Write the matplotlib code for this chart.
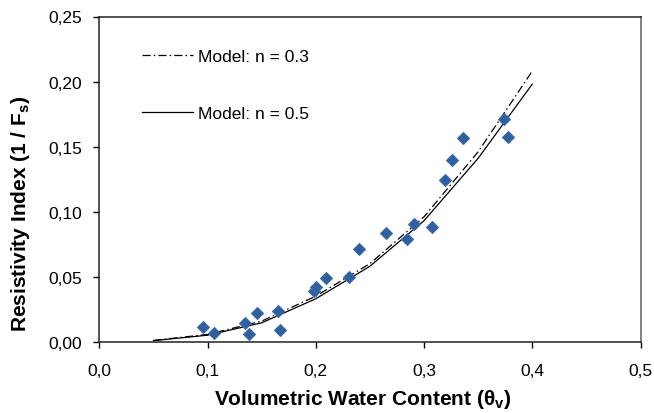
import matplotlib
matplotlib.use("Agg")
import matplotlib.pyplot as plt
from matplotlib.ticker import FuncFormatter, MultipleLocator

plt.rcParams['font.family'] = ['Liberation Sans', 'DejaVu Sans']
plt.rcParams['mathtext.fontset'] = 'custom'
plt.rcParams['mathtext.rm'] = 'Liberation Sans'
plt.rcParams['mathtext.bf'] = 'Liberation Sans:bold'
plt.rcParams['mathtext.it'] = 'Liberation Sans:italic'

# measured data
theta = [0.096, 0.106, 0.135, 0.138, 0.146, 0.165, 0.167, 0.198, 0.200, 0.209,
         0.231, 0.240, 0.265, 0.284, 0.291, 0.307, 0.319, 0.326, 0.336, 0.374, 0.378]
ri = [0.0115, 0.0064, 0.0141, 0.0059, 0.0218, 0.0233, 0.0090, 0.0387, 0.0418, 0.0490,
      0.0500, 0.0710, 0.0836, 0.0790, 0.0908, 0.0879, 0.1246, 0.1395, 0.1564, 0.1710, 0.1574]

# model curves
model_x = [0.05, 0.10, 0.15, 0.20, 0.25, 0.30, 0.35, 0.40]
model_n03 = [0.0010, 0.0056, 0.0158, 0.0350, 0.0600, 0.0960, 0.1460, 0.2080]
model_n05 = [0.0008, 0.0050, 0.0145, 0.0330, 0.0580, 0.0930, 0.1410, 0.1980]

fig = plt.figure(figsize=(6.54, 4.14), dpi=100)
ax = fig.add_axes([99.3/654, 1 - 342.7/414, (640.5-99.3)/654, (342.7-17.5)/414])

ax.plot(model_x, model_n03, color='black', lw=0.9, ls=(0, (6.5, 2.5, 1.2, 2.5)), label='Model: n = 0.3')
ax.plot(model_x, model_n05, color='black', lw=0.9, ls='-', label='Model: n = 0.5')
ax.plot(theta, ri, ls='none', marker='D', ms=6.5, color='#2f5f9c', mec='#3d6dab', mew=0.8, zorder=3)

ax.set_xlim(0, 0.5)
ax.set_ylim(0, 0.25)
ax.xaxis.set_major_locator(MultipleLocator(0.1))
ax.yaxis.set_major_locator(MultipleLocator(0.05))
ax.xaxis.set_major_formatter(FuncFormatter(lambda v, p: f"{v:.1f}".replace('.', ',')))
ax.yaxis.set_major_formatter(FuncFormatter(lambda v, p: f"{v:.2f}".replace('.', ',')))
ax.tick_params(direction='out', length=4.5, width=1, labelsize=12.5)
ax.tick_params(axis='y', pad=8)
ax.tick_params(axis='x', pad=11)
for s in ['left', 'bottom', 'top']:
    ax.spines[s].set_linewidth(1.1)
    ax.spines[s].set_color('#222222')
ax.spines['right'].set_color('#777777')
ax.spines['right'].set_linewidth(1.3)

ax.set_xlabel(r'Volumetric Water Content ($\mathbf{\theta_v}$)', fontsize=15, fontweight='bold',
              va='center', ha='center')
ax.xaxis.set_label_coords(0.486, -0.176)
ax.set_ylabel(r'Resistivity Index (1 / F$_\mathbf{s}$)', fontsize=15, fontweight='bold',
              va='center', ha='center')
ax.yaxis.set_label_coords(-0.145, 0.397)

handles, labels = ax.get_legend_handles_labels()
leg = ax.legend(handles, labels, loc='upper left', bbox_to_anchor=(0.079, 0.900), frameon=False,
                fontsize=12.5, handlelength=2.94, handletextpad=0.3, labelspacing=2.4,
                borderpad=0, borderaxespad=0)

fig.savefig('out.png', dpi=100)
